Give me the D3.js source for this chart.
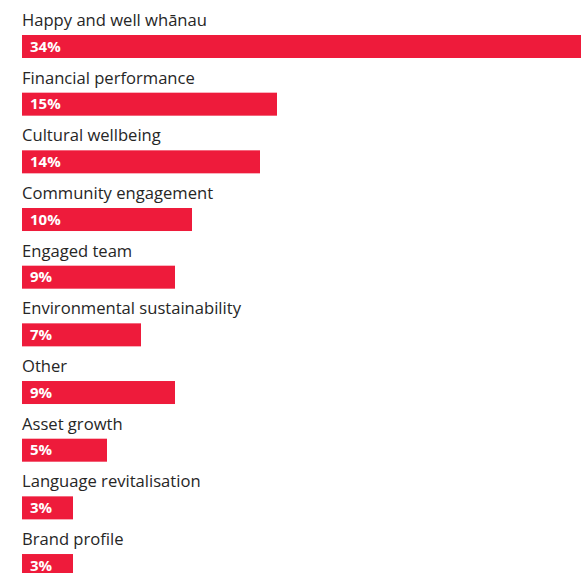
<!DOCTYPE html>
<html><head><meta charset="utf-8">
<script src="https://cdn.jsdelivr.net/npm/d3@7"></script>
<style>
html,body{margin:0;padding:0;background:#fff;overflow:hidden;}
svg{display:block;}
</style></head>
<body>
<svg id="chart" width="581" height="573"></svg>
<script>
const categories = ["Happy and well whānau","Financial performance","Cultural wellbeing","Community engagement","Engaged team","Environmental sustainability","Other","Asset growth","Language revitalisation","Brand profile"];
const values = [34,15,14,10,9,7,9,5,3,3];
const valueLabels = ["34%","15%","14%","10%","9%","7%","9%","5%","3%","3%"];

const svg = d3.select("#chart");
const left = 22;
const x = d3.scaleLinear().domain([0,34]).range([0,578]);
const y = d3.scaleBand().domain(categories).range([35, 35 + 57.67*10]).paddingInner(0).paddingOuter(0);
const barH = 23;

const g = svg.append("g");
const rows = g.selectAll("g.row").data(categories).join("g").attr("class","row")
  .attr("transform", d => `translate(0,${y(d)})`);

rows.append("text")
  .attr("x", left).attr("y", -9)
  .attr("font-family","'Open Sans', sans-serif").attr("font-size","16.6px")
  .attr("fill","#262626")
  .text(d => d);

rows.append("rect")
  .attr("x", left).attr("y", 0)
  .attr("width", (d,i) => x(values[i]))
  .attr("height", barH)
  .attr("fill","#EE1B3B");

rows.append("text")
  .attr("x", left + 8).attr("y", 16.5)
  .attr("font-family","'Open Sans', sans-serif").attr("font-size","15px").attr("font-weight","bold")
  .attr("fill","#fff")
  .text((d,i) => valueLabels[i]);
</script>
</body></html>
